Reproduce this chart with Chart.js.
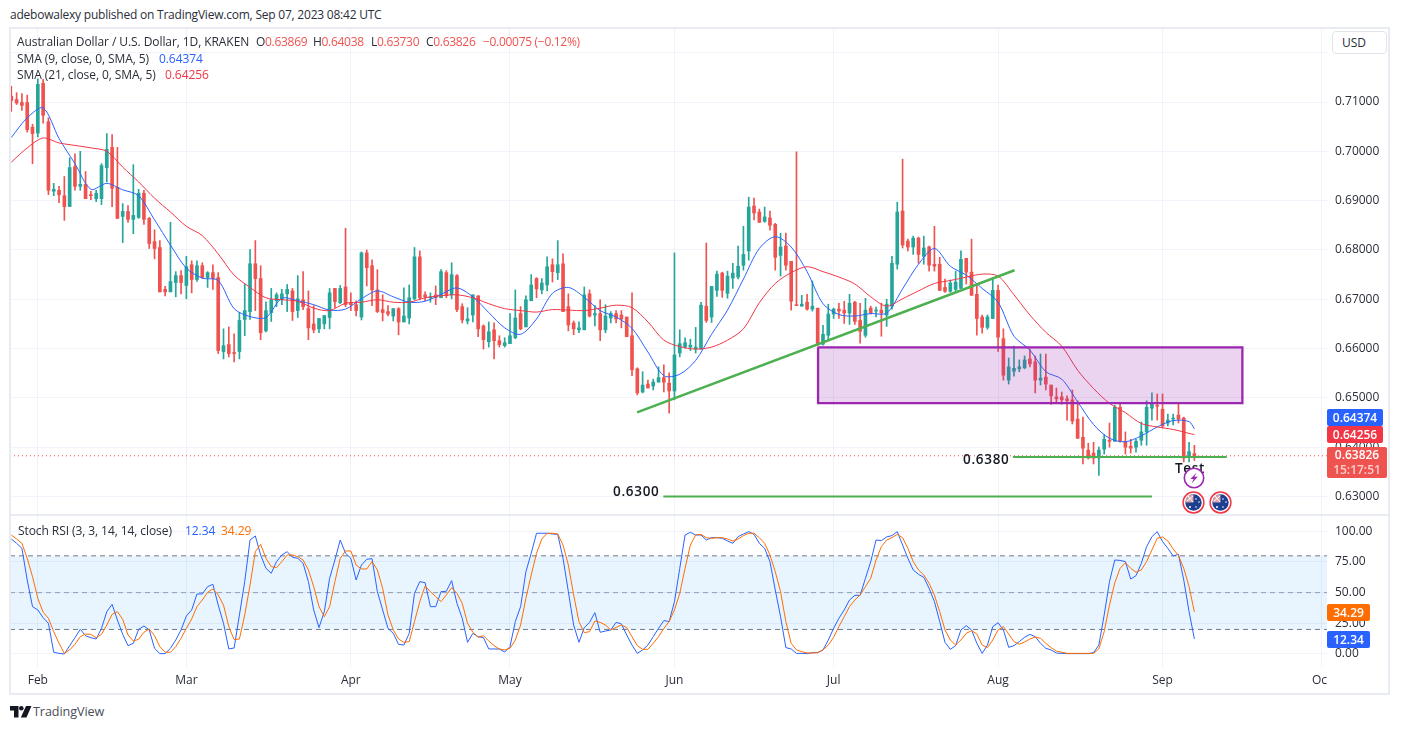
<!DOCTYPE html>
<html>
<head>
<meta charset="utf-8">
<title>AUD/USD 1D</title>
<script src="https://cdn.jsdelivr.net/npm/chart.js@4"></script>
<style>
    html, body { margin: 0; padding: 0; background: #fff; }
    body { width: 1401px; height: 730px; position: relative; overflow: hidden; font-family: "Open Sans", sans-serif; font-size: 12px; color: #2a2e39; }
    canvas { position: absolute; left: 10px; }
    #price-chart { top: 28px; }
    #stoch-chart { top: 516px; }
    .frame { position: absolute; left: 9px; top: 27px; width: 1381px; height: 668px; box-sizing: border-box; border: 2px solid #e9ebf2; }
    .divider { position: absolute; left: 10px; top: 514px; width: 1380px; height: 2px; background: #e9ebf2; }
    .txt { position: absolute; white-space: pre; line-height: 16px; letter-spacing: -0.08px; }
    .num { letter-spacing: -0.3px; }
    .red { color: #f23645; }
    .down { color: #ef5350; }
    .blue { color: #2962ff; }
    .orange { color: #ff6d00; }
    .tag { position: absolute; left: 1327px; color: #fff; font-weight: 600; text-align: center; border-radius: 2px; line-height: 17px; }
    .usd { position: absolute; left: 1332px; top: 31px; width: 55px; height: 23px; box-sizing: border-box; border: 1px solid #e0e3eb; border-radius: 4px; line-height: 21px; padding-left: 9px; background: #fff; }
    .level { position: absolute; font-weight: 600; font-size: 13.5px; letter-spacing: 0.7px; color: #131722; line-height: 16px; white-space: pre; }
    .mask { position: absolute; left: 1327px; top: 671px; width: 14px; height: 20px; background: #fff; }
    svg { position: absolute; }
</style>
</head>
<body>
<canvas id="price-chart" width="1380" height="487"></canvas>
<canvas id="stoch-chart" width="1380" height="179"></canvas>
<div class="frame"></div>
<div class="divider"></div>
<div class="mask"></div>

<div class="txt" style="left:10px;top:7px;letter-spacing:-0.22px">adebowalexy published on TradingView.com, Sep 07, 2023 08:42 UTC</div>
<div class="txt" style="left:17px;top:34px">Australian Dollar / U.S. Dollar, 1D, KRAKEN</div>
<div class="txt num" style="left:256px;top:34px">O<span class="down">0.63869</span></div>
<div class="txt num" style="left:313px;top:34px">H<span class="down">0.64038</span></div>
<div class="txt num" style="left:371px;top:34px">L<span class="down">0.63730</span></div>
<div class="txt num" style="left:426px;top:34px">C<span class="down">0.63826</span></div>
<div class="txt num down" style="left:483px;top:34px">−0.00075 (−0.12%)</div>
<div class="txt" style="left:17px;top:51px">SMA (9, close, 0, SMA, 5)</div>
<div class="txt blue" style="left:159px;top:51px">0.64374</div>
<div class="txt" style="left:17px;top:67px">SMA (21, close, 0, SMA, 5)</div>
<div class="txt red" style="left:165px;top:67px">0.64256</div>
<div class="txt" style="left:18px;top:523px">Stoch RSI (3, 3, 14, 14, close)</div>
<div class="txt blue" style="left:185px;top:523px">12.34</div>
<div class="txt orange" style="left:221px;top:523px">34.29</div>

<div class="usd">USD</div>
<div class="tag" style="top:409px;width:56px;height:17px;background:#2962ff">0.64374</div>
<div class="tag" style="top:426px;width:56px;height:17px;background:#f23645">0.64256</div>
<div class="tag" style="top:447px;width:60px;height:31px;background:#ef5350;line-height:15px">0.63826<br><span style="opacity:.72">15:17:51</span></div>
<div class="tag" style="top:604px;width:43px;height:17px;background:#ff6d00">34.29</div>
<div class="tag" style="top:631px;width:43px;height:17px;background:#2962ff">12.34</div>

<div class="level" style="left:963px;top:451px">0.6380</div>
<div class="level" style="left:613px;top:483px">0.6300</div>
<div class="level" style="left:1175px;top:460px">Test</div>

<!-- event badges under the last candles -->
<svg style="left:1183px;top:467px" width="22" height="22" viewBox="0 0 22 22">
    <circle cx="11" cy="11" r="9.7" fill="#fff" stroke="#9c27b0" stroke-width="1.6"/>
    <path d="M13.6 5.4 L7.4 12 H10.6 L8.6 16.6 L14.8 9.8 H11.4 Z" fill="#9c27b0"/>
</svg>
<svg style="left:1182px;top:491px" width="23" height="23" viewBox="0 0 23 23">
    <circle cx="11.5" cy="11.5" r="10.4" fill="#fff" stroke="#f23645" stroke-width="1.5"/>
    <circle cx="11.5" cy="11.5" r="8.2" fill="#1d3f8f"/>
    <path d="M11.5 3.3 A8.2 8.2 0 0 0 3.3 11.5 H11.5 Z" fill="#d9a3ad"/>
    <path d="M6 5 L11 11 M11 5 L5 10" stroke="#fff" stroke-width="1"/>
    <circle cx="8" cy="16" r="1" fill="#fff"/><circle cx="14" cy="8" r=".8" fill="#fff"/><circle cx="17" cy="11" r=".8" fill="#fff"/><circle cx="14" cy="16" r=".8" fill="#fff"/>
</svg>
<svg style="left:1209px;top:491px" width="23" height="23" viewBox="0 0 23 23">
    <circle cx="11.5" cy="11.5" r="10.4" fill="#fff" stroke="#f23645" stroke-width="1.5"/>
    <circle cx="11.5" cy="11.5" r="8.2" fill="#1d3f8f"/>
    <path d="M11.5 3.3 A8.2 8.2 0 0 0 3.3 11.5 H11.5 Z" fill="#d9a3ad"/>
    <path d="M6 5 L11 11 M11 5 L5 10" stroke="#fff" stroke-width="1"/>
    <circle cx="8" cy="16" r="1" fill="#fff"/><circle cx="14" cy="8" r=".8" fill="#fff"/><circle cx="17" cy="11" r=".8" fill="#fff"/><circle cx="14" cy="16" r=".8" fill="#fff"/>
</svg>

<!-- footer logo -->
<svg style="left:10px;top:706px" width="22" height="12" viewBox="0 0 22 12">
    <path d="M0 0 H8.5 V11.5 H4 V4.5 H0 Z" fill="#131722"/>
    <circle cx="11.3" cy="2.3" r="2.3" fill="#131722"/>
    <path d="M16 0 H21.5 L16.5 11.5 H10.8 Z" fill="#131722"/>
</svg>
<div class="txt" style="left:33px;top:704px;font-size:12.6px;color:#4a4e59">TradingView</div>

<script>
// daily candles, day 0 = Jan 27, last = Sep 7
const opens = [
    .7112,.7105,.7099,.7099,.7049,.7037,.7138,.7060,.6919,.6921,
    .6910,.6888,.6969,.6929,.6933,.6912,.6904,.6904,.6967,.7008,
    .6927,.6868,.6878,.6862,.6866,.6915,.6864,.6817,.6805,.6720,
    .6715,.6734,.6748,.6728,.6770,.6740,.6768,.6744,.6754,.6744,
    .6594,.6608,.6592,.6594,.6659,.6675,.6772,.6742,.6636,.6673,
    .6697,.6699,.6711,.6717,.6677,.6699,.6681,.6650,.6640,.6650,
    .6663,.6722,.6693,.6725,.6693,.6689,.6664,.6794,.6768,.6719,
    .6679,.6675,.6666,.6681,.6654,.6662,.6701,.6786,.6709,.6703,
    .6709,.6703,.6754,.6709,.6748,.6685,.6656,.6668,.6707,.6646,
    .6614,.6638,.6616,.6606,.6610,.6622,.6671,.6644,.6697,.6742,
    .6719,.6729,.6770,.6754,.6772,.6685,.6652,.6638,.6638,.6711,
    .6668,.6671,.6638,.6662,.6671,.6668,.6664,.6626,.6559,.6512,
    .6528,.6524,.6532,.6541,.6530,.6514,.6591,.6603,.6603,.6599,
    .6599,.6686,.6664,.6718,.6753,.6712,.6743,.6745,.6769,.6798,
    .6889,.6877,.6858,.6865,.6852,.6789,.6808,.6777,.6688,.6686,
    .6694,.6680,.6682,.6609,.6627,.6670,.6680,.6678,.6672,.6694,
    .6657,.6627,.6682,.6676,.6678,.6668,.6686,.6771,.6879,.6818,
    .6806,.6824,.6787,.6806,.6771,.6771,.6724,.6716,.6720,.6722,
    .6783,.6755,.6710,.6664,.6643,.6661,.6718,.6620,.6536,.6554,
    .6559,.6561,.6579,.6573,.6536,.6542,.6526,.6502,.6502,.6498,
    .6496,.6457,.6420,.6394,.6388,.6378,.6396,.6414,.6412,.6481,
    .6412,.6402,.6400,.6414,.6431,.6479,.6485,.6477,.6449,.6457,
    .6465,.6459,.6380,.63869
];
const closes = [
    .7103,.7098,.7093,.7044,.7036,.7136,.7073,.6921,.6923,.6912,
    .6888,.6967,.6929,.6933,.6904,.6910,.6915,.6971,.7004,.6925,
    .6864,.6878,.6862,.6870,.6915,.6862,.6813,.6803,.6715,.6715,
    .6736,.6748,.6734,.6766,.6740,.6768,.6744,.6754,.6742,.6596,
    .6606,.6590,.6590,.6657,.6677,.6772,.6742,.6632,.6677,.6699,
    .6709,.6711,.6720,.6675,.6701,.6685,.6642,.6638,.6661,.6667,
    .6713,.6695,.6722,.6689,.6689,.6677,.6794,.6764,.6719,.6675,
    .6673,.6670,.6681,.6654,.6666,.6703,.6786,.6703,.6705,.6705,
    .6703,.6756,.6707,.6750,.6679,.6658,.6660,.6709,.6640,.6618,
    .6634,.6616,.6608,.6612,.6626,.6662,.6640,.6699,.6729,.6721,
    .6733,.6766,.6756,.6770,.6675,.6648,.6640,.6642,.6709,.6666,
    .6671,.6638,.6666,.6671,.6660,.6660,.6624,.6557,.6510,.6526,
    .6520,.6532,.6541,.6532,.6514,.6587,.6610,.6612,.6607,.6603,
    .6688,.6657,.6726,.6751,.6718,.6747,.6753,.6767,.6791,.6887,
    .6875,.6856,.6867,.6850,.6785,.6806,.6769,.6696,.6687,.6690,
    .6680,.6686,.6609,.6629,.6670,.6680,.6676,.6672,.6692,.6655,
    .6635,.6678,.6672,.6678,.6672,.6690,.6773,.6877,.6810,.6806,
    .6824,.6791,.6804,.6769,.6767,.6718,.6716,.6733,.6735,.6781,
    .6755,.6708,.6661,.6643,.6664,.6718,.6623,.6546,.6563,.6560,
    .6563,.6577,.6569,.6536,.6540,.6528,.6504,.6498,.6496,.6494,
    .6453,.6418,.6398,.6378,.6378,.6394,.6416,.6412,.6481,.6412,
    .6400,.6398,.6412,.6431,.6481,.6490,.6483,.6443,.6455,.6459,
    .6457,.6378,.6391,.63826
];
const highs = [
    .7132,.7119,.7117,.7114,.7055,.7147,.7146,.7068,.6935,.6929,
    .6949,.6987,.6995,.7000,.6959,.6919,.6921,.6975,.7036,.7034,
    .7008,.6894,.6890,.6973,.6923,.6921,.6866,.6841,.6819,.6726,
    .6856,.6756,.6758,.6787,.6778,.6778,.6774,.6756,.6770,.6754,
    .6640,.6644,.6630,.6673,.6730,.6801,.6819,.6768,.6695,.6722,
    .6713,.6720,.6730,.6722,.6748,.6756,.6717,.6687,.6661,.6667,
    .6722,.6722,.6728,.6844,.6713,.6697,.6796,.6800,.6780,.6760,
    .6709,.6687,.6681,.6683,.6723,.6729,.6805,.6798,.6715,.6713,
    .6727,.6760,.6758,.6774,.6750,.6691,.6683,.6709,.6707,.6648,
    .6654,.6652,.6626,.6622,.6671,.6719,.6685,.6707,.6750,.6744,
    .6742,.6786,.6782,.6819,.6792,.6711,.6656,.6654,.6725,.6719,
    .6687,.6699,.6689,.6675,.6677,.6677,.6664,.6713,.6561,.6553,
    .6536,.6538,.6563,.6567,.6551,.6794,.6638,.6622,.6619,.6643,
    .6694,.6814,.6726,.6757,.6755,.6757,.6773,.6808,.6848,.6907,
    .6905,.6883,.6887,.6879,.6854,.6834,.6834,.6777,.6999,.6708,
    .6710,.6737,.6682,.6647,.6690,.6682,.6692,.6696,.6710,.6696,
    .6692,.6702,.6686,.6684,.6692,.6700,.6787,.6897,.6984,.6822,
    .6828,.6826,.6828,.6808,.6848,.6785,.6741,.6739,.6757,.6798,
    .6783,.6822,.6731,.6668,.6668,.6743,.6729,.6640,.6581,.6605,
    .6577,.6585,.6599,.6585,.6589,.6589,.6526,.6520,.6512,.6504,
    .6516,.6494,.6461,.6408,.6410,.6400,.6425,.6449,.6485,.6487,
    .6431,.6416,.6416,.6451,.6494,.6510,.6508,.6508,.6467,.6467,
    .6489,.6461,.6410,.64038
];
const lows = [
    .7081,.7095,.7083,.7039,.6975,.7029,.7057,.6912,.6910,.6896,
    .6860,.6888,.6921,.6921,.6904,.6902,.6898,.6892,.6938,.6888,
    .6864,.6815,.6856,.6833,.6864,.6852,.6803,.6782,.6715,.6707,
    .6715,.6705,.6711,.6701,.6713,.6736,.6742,.6724,.6720,.6590,
    .6579,.6583,.6573,.6579,.6626,.6659,.6677,.6618,.6634,.6655,
    .6685,.6689,.6675,.6657,.6663,.6679,.6618,.6632,.6632,.6640,
    .6640,.6683,.6691,.6685,.6677,.6666,.6658,.6727,.6687,.6673,
    .6656,.6666,.6656,.6628,.6654,.6650,.6699,.6699,.6697,.6694,
    .6689,.6703,.6703,.6701,.6675,.6652,.6650,.6654,.6624,.6599,
    .6603,.6579,.6603,.6603,.6610,.6620,.6638,.6644,.6697,.6703,
    .6711,.6717,.6735,.6740,.6675,.6636,.6628,.6632,.6638,.6664,
    .6646,.6616,.6632,.6652,.6652,.6642,.6624,.6545,.6506,.6510,
    .6520,.6516,.6532,.6512,.6469,.6496,.6583,.6601,.6596,.6591,
    .6599,.6653,.6653,.6706,.6704,.6702,.6722,.6741,.6759,.6779,
    .6861,.6856,.6856,.6840,.6759,.6747,.6759,.6678,.6687,.6686,
    .6678,.6676,.6605,.6607,.6619,.6661,.6661,.6651,.6649,.6649,
    .6611,.6623,.6670,.6664,.6625,.6645,.6680,.6761,.6804,.6798,
    .6791,.6773,.6771,.6757,.6757,.6718,.6714,.6714,.6714,.6722,
    .6731,.6708,.6627,.6631,.6639,.6661,.6594,.6536,.6528,.6544,
    .6553,.6559,.6563,.6510,.6526,.6516,.6487,.6490,.6487,.6455,
    .6447,.6418,.6366,.6376,.6366,.6343,.6386,.6400,.6412,.6410,
    .6386,.6388,.6390,.6404,.6404,.6455,.6455,.6439,.6443,.6445,
    .6449,.6370,.6370,.63730
];

// moving averages, sampled every third day (the last entry is day 223)
const SMA_STEP = 3;
const sma9 = [
    .7028,.7068,.7088,.7026,.6975,.6923,.6935,.6922,.6910,.6861,.6810,.6763,.6743,.6738,.6681,.6665,.6663,.6702,.6697,.6689,.6678,.6680,
    .6701,.6717,.6705,.6694,.6696,.6710,.6723,.6705,.6673,.6642,.6629,.6660,.6712,.6724,.6704,.6677,.6664,.6641,.6593,.6545,.6548,
    .6576,.6629,.6678,.6741,.6803,.6827,.6806,.6756,.6691,.6669,.6666,.6671,.6672,.6721,.6771,.6803,.6767,.6749,.6722,.6694,.6625,
    .6597,.6553,.6538,.6492,.6446,.6418,.6411,.6423,.6441,.6454,.6452,.64374
];
const sma21 = [
    .6978,.7007,.7027,.7017,.7012,.7007,.7000,.6968,.6938,.6905,.6877,.6848,.6829,.6792,.6749,.6724,.6703,.6699,.6696,.6682,.6677,.6692,
    .6694,.6699,.6694,.6694,.6703,.6707,.6709,.6703,.6691,.6681,.6677,.6674,.6679,.6678,.6677,.6682,.6688,.6683,.6654,.6617,.6604,
    .6599,.6603,.6617,.6640,.6693,.6732,.6754,.6766,.6756,.6745,.6731,.6705,.6686,.6701,.6717,.6732,.6738,.6745,.6751,.6747,.6709,
    .6668,.6633,.6605,.6556,.6519,.6489,.6470,.6448,.6441,.6436,.6428,.64256
];

const stochK = [
    93.7,90.2,86.1,60.3,38.6,35.9,29.6,25.0,1.4,0.5,
    0,6.8,13.3,20.1,14.9,13.3,12.2,20.9,34.5,40.5,
    27.7,16.0,6.8,8.7,20.1,22.8,19.6,4.6,0.3,0.3,
    4.6,11.4,19.6,31.0,35.9,48.9,48.9,54.9,56.8,39.9,
    25.0,4.1,4.9,31.8,59.0,92.9,96.2,80.7,69.8,65.8,
    75.3,80.7,83.4,78.8,78.0,73.9,59.0,35.9,21.5,34.5,
    61.7,76.6,92.9,82.1,78.0,60.3,72.5,77.2,77.7,50.8,
    35.9,20.9,16.8,7.9,7.3,16.8,49.4,59.0,58.1,38.6,
    38.6,50.8,51.1,59.8,41.3,29.1,9.5,16.8,14.1,13.3,
    4.1,4.1,4.1,1.6,6.0,26.4,38.6,67.1,82.1,98.4,
    98.4,98.4,97.8,97.5,78.0,50.8,23.6,9.5,21.5,25.8,
    33.7,17.7,18.7,19.6,25.8,24.5,15.5,7.3,0.5,3.3,
    7.3,14.1,20.9,27.2,26.4,42.7,69.8,97.0,99.2,97.0,
    97.0,92.9,94.8,94.8,94.3,92.1,90.2,95.6,97.8,99.7,
    97.5,90.2,86.1,75.3,52.2,30.4,5.2,4.1,0.5,0.5,
    0.3,1.1,1.1,3.3,11.4,20.9,29.1,35.9,44.0,47.8,
    47.8,61.7,75.3,92.9,92.4,95.4,96.5,99.7,88.8,78.0,
    68.5,64.9,62.5,53.5,42.7,26.4,9.5,3.8,6.8,19.6,
    23.1,19.6,8.7,0.5,7.3,22.3,25.5,19.6,5.4,6.8,
    10.1,13.6,16.0,14.1,8.7,4.6,3.3,0.8,0.5,0.3,
    0.3,0.3,0.3,0.3,1.1,7.3,31.8,59.0,76.6,76.3,
    75.3,61.1,63.8,73.9,87.5,95.6,99.7,91.6,86.1,79.9,
    81.2,60.3,34.5,12.34
];
const stochD = [
    97.0,93.7,90.2,78.0,63.0,45.4,34.0,29.1,18.2,8.7,
    0.5,3.3,7.9,14.1,16.3,16.0,13.3,16.0,23.6,32.3,
    34.5,28.3,15.5,10.6,12.0,17.7,20.4,14.9,6.0,1.4,
    1.4,6.0,12.8,20.9,28.5,38.6,44.0,50.3,53.0,48.1,
    39.9,22.3,11.7,12.2,31.8,56.2,83.4,89.4,78.0,71.2,
    70.4,75.3,80.7,80.7,79.3,76.6,68.5,54.9,38.6,30.4,
    38.6,59.0,78.0,84.0,84.0,72.5,69.3,69.3,75.3,68.5,
    53.5,31.8,19.6,12.2,9.5,10.1,26.4,42.7,55.4,50.8,
    46.7,42.7,48.1,54.1,49.4,41.3,25.0,17.7,13.6,14.9,
    10.6,6.8,4.1,3.3,4.6,11.4,23.6,45.4,64.4,82.1,
    93.7,98.4,98.4,97.8,88.8,72.5,48.1,26.4,17.4,18.2,
    26.9,25.8,23.6,19.6,21.7,23.6,21.5,14.1,6.8,3.8,
    3.8,8.7,14.1,20.9,26.4,35.9,49.4,69.8,88.8,97.0,
    97.5,94.8,94.3,94.8,94.8,93.7,92.1,93.7,96.5,98.4,
    98.4,94.8,90.2,80.7,67.1,50.8,26.4,8.7,3.3,1.9,
    0.8,0.8,1.1,3.3,7.3,13.6,22.3,30.4,38.6,44.0,
    48.1,54.9,61.7,76.6,87.5,92.9,94.8,97.5,94.8,86.1,
    75.3,68.5,64.4,57.6,48.1,34.5,19.6,11.4,7.3,11.4,
    16.8,19.0,16.3,7.3,5.2,11.4,19.6,22.3,16.3,10.1,
    7.9,9.8,12.2,13.9,12.8,8.7,5.2,2.4,1.4,0.5,
    0.5,0.5,0.5,0.5,0.5,4.3,18.2,39.9,58.1,69.8,
    74.4,69.8,66.6,68.5,75.3,84.8,94.3,95.4,92.1,85.6,
    80.2,69.8,54.9,34.29
];

// axis ticks
const monthDays = [5, 33, 64, 94, 125, 155, 186, 217, 247];
const monthNames = ['Feb', 'Mar', 'Apr', 'May', 'Jun', 'Jul', 'Aug', 'Sep', 'Oct'];
const priceTicks = [0.63, 0.64, 0.65, 0.66, 0.67, 0.68, 0.69, 0.70, 0.71, 0.72];
const stochTicks = [0, 25, 50, 75, 100];

// drawings on the price pane: [day, price] pairs
const trendLine = [[117.95, 0.64706], [189.1, 0.67589]];
const support6380 = [[188.8, 0.6380], [229.1, 0.6380]];
const support6300 = [[122.9, 0.6300], [215.0, 0.6300]];
const zoneDays = [152.07, 232.05];
const zonePrices = [0.64894, 0.66025];
const lastPrice = 0.63826;

const DAY_MIN = -0.245;
const DAY_MAX = 248;
const GRID = '#f0f3fa';
const UP = '#26a69a';
const DOWN = '#ef5350';
const TICK_FONT = { family: '"Open Sans", sans-serif', size: 12 };

function toPoints(pairs) {
    return pairs.map(p => ({ x: p[0], y: p[1] }));
}

function lineSet(data, color, width, extra) {
    return Object.assign({
        type: 'line',
        data: data,
        borderColor: color,
        borderWidth: width,
        pointRadius: 0,
        order: 1,
    }, extra);
}

function candleColors() {
    return closes.map((c, i) => (c >= opens[i] ? UP : DOWN));
}

// tick labels at the pane ends must not shrink the plot area
function dropScalePadding(scale) {
    scale.paddingTop = 0;
    scale.paddingBottom = 0;
    scale.paddingLeft = 0;
    scale.paddingRight = 0;
}

function xScale(showLabels) {
    return {
        type: 'linear',
        min: DAY_MIN,
        max: DAY_MAX,
        offset: false,
        grid: { color: GRID, offset: false, drawTicks: false },
        border: { display: false },
        afterBuildTicks: scale => { scale.ticks = monthDays.map(v => ({ value: v })); },
        afterFit: scale => {
            scale.height = showLabels ? 28 : 0;
            dropScalePadding(scale);
        },
        ticks: {
            display: showLabels,
            autoSkip: false,
            maxRotation: 0,
            padding: 6,
            color: '#2a2e39',
            font: TICK_FONT,
            callback: v => monthNames[monthDays.indexOf(v)],
        },
    };
}

function yScale(min, max, ticks, format) {
    return {
        position: 'right',
        min: min,
        max: max,
        grid: { color: GRID, drawTicks: false },
        border: { display: false },
        afterBuildTicks: scale => { scale.ticks = ticks.map(v => ({ value: v })); },
        afterFit: scale => {
            scale.width = 63;
            dropScalePadding(scale);
        },
        ticks: { padding: 8, color: '#2a2e39', font: TICK_FONT, autoSkip: false, callback: format },
    };
}

const baseOptions = {
    responsive: false,
    animation: false,
    devicePixelRatio: 1,
    layout: { padding: 0 },
    plugins: { legend: { display: false }, tooltip: { enabled: false } },
};

function renderPriceChart() {
    const colors = candleColors();
    const zone = [
        [zoneDays[0], zonePrices[1]], [zoneDays[1], zonePrices[1]],
        [zoneDays[1], zonePrices[0]], [zoneDays[0], zonePrices[0]],
        [zoneDays[0], zonePrices[1]],
    ];
    new Chart(document.getElementById('price-chart'), {
        data: {
            datasets: [
                {
                    type: 'bar',
                    data: lows.map((v, i) => ({ x: i, y: [v, highs[i]] })),
                    backgroundColor: colors,
                    barThickness: 1,
                    grouped: false,
                    order: 3,
                },
                {
                    type: 'bar',
                    data: opens.map((v, i) => ({ x: i, y: [v, closes[i]] })),
                    backgroundColor: colors,
                    barThickness: 3,
                    minBarLength: 1,
                    grouped: false,
                    order: 2,
                },
                lineSet(sma21.map((v, i) => ({ x: Math.min(i * SMA_STEP, 223), y: v })), '#f23645', 1, { tension: 0.3 }),
                lineSet(sma9.map((v, i) => ({ x: Math.min(i * SMA_STEP, 223), y: v })), '#2962ff', 1, { tension: 0.3 }),
                lineSet(toPoints([[DAY_MIN, lastPrice], [DAY_MAX, lastPrice]]), DOWN, 1, { borderDash: [1, 3], order: 4 }),
                lineSet(toPoints(zone), '#9c27b0', 2.3, { fill: 'shape', backgroundColor: 'rgba(156, 39, 176, 0.2)', order: 0 }),
                lineSet(toPoints(trendLine), '#4caf50', 2.5, { order: 0 }),
                lineSet(toPoints(support6380), '#4caf50', 2, { order: 0 }),
                lineSet(toPoints(support6300), '#4caf50', 2, { order: 0 }),
            ],
        },
        options: Object.assign({}, baseOptions, {
            scales: {
                x: xScale(false),
                y: yScale(0.62625, 0.72501, priceTicks, v => (v > 0.715 ? '' : v.toFixed(5))),
            },
        }),
    });
}

function renderStochChart() {
    const band = [DAY_MIN, DAY_MAX];
    const dashed = '#787b86';
    new Chart(document.getElementById('stoch-chart'), {
        data: {
            datasets: [
                lineSet(stochK.map((v, i) => ({ x: i, y: v })), '#2962ff', 1, { order: 1 }),
                lineSet(stochD.map((v, i) => ({ x: i, y: v })), '#ff6d00', 1, { order: 0 }),
                lineSet(band.map(x => ({ x: x, y: 80 })), dashed, 1, { borderDash: [5, 4], order: 2, fill: { value: 20 }, backgroundColor: 'rgba(33, 150, 243, 0.1)' }),
                lineSet(band.map(x => ({ x: x, y: 50 })), 'rgba(120, 123, 134, 0.7)', 1, { borderDash: [5, 4], order: 2 }),
                lineSet(band.map(x => ({ x: x, y: 20 })), dashed, 1, { borderDash: [5, 4], order: 2 }),
            ],
        },
        options: Object.assign({}, baseOptions, {
            scales: {
                x: xScale(true),
                y: yScale(-10.6, 112.47, stochTicks, v => v.toFixed(2)),
            },
        }),
    });
}

renderPriceChart();
renderStochChart();
</script>
</body>
</html>
